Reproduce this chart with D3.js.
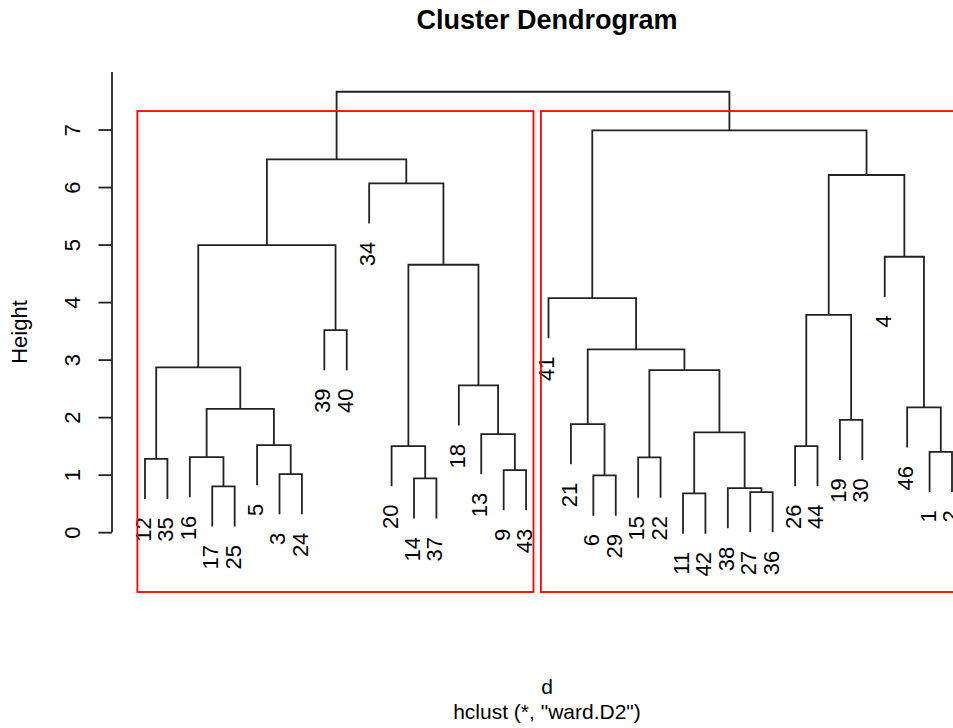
<!DOCTYPE html>
<html>
<head>
<meta charset="utf-8">
<script src="https://cdn.jsdelivr.net/npm/d3@7"></script>
<style>
  html, body { margin: 0; padding: 0; background: #fff; }
  svg { display: block; font-family: "Liberation Sans", Arial, sans-serif; }
</style>
</head>
<body>
<svg id="chart" width="953" height="728"></svg>
<script>
// Leaf labels in plotting order (left to right)
const leafOrder = ["12","35","16","17","25","5","3","24","39","40","34","20","14","37",
  "18","13","9","43","41","21","6","29","15","22","11","42","38","27","36","26","44",
  "19","30","4","46","1","2"];

// Agglomeration steps, hclust style: negative = observation, positive = earlier step (1-based)
const merges = [
  [-11,-42],[-27,-36],[-38,2],[-17,-25],[-14,-37],[-6,-29],[-3,-24],[-9,-43],
  [-12,-35],[-15,-22],[-16,4],[-1,-2],[-26,-44],[-20,5],[-5,7],[-13,8],
  [1,3],[-21,6],[-19,-30],[11,15],[-46,12],[-18,16],[10,17],[9,20],
  [18,23],[-39,-40],[13,19],[-41,25],[14,22],[-4,21],[24,26],[-34,29],
  [27,30],[31,32],[28,33],[34,35]
];

// Merge heights, one per step
const mergeHeights = [
  0.673,0.696,0.765,0.795,0.934,0.986,1.009,1.078,
  1.275,1.299,1.304,1.397,1.496,1.496,1.513,1.704,
  1.734,1.878,1.953,2.144,2.169,2.551,2.817,2.864,
  3.177,3.513,3.779,4.070,4.649,4.788,4.991,6.064,
  6.209,6.482,6.986,7.657
];

const yTicks = [0,1,2,3,4,5,6,7];
const clusterCount = 2;

const titleText = "Cluster Dendrogram";
const xLabelText = "d";
const subText = 'hclust (*, "ward.D2")';
const yLabelText = "Height";

const svg = d3.select("#chart");
svg.append("rect").attr("width", 953).attr("height", 728).attr("fill", "#fff");

const fontSize = 22;
const ink = "#222";

// Scales
const x = d3.scaleLinear().domain([0, leafOrder.length - 1]).range([145, 952]);
const y = d3.scaleLinear().domain([-1.04, 8]).range([592, 72]);

// Build nested tree from merge steps
function build(ref) {
  if (ref < 0) return { label: String(-ref) };
  const i = ref - 1;
  return { height: mergeHeights[i], step: i, children: merges[i].map(build) };
}
const root = d3.hierarchy(build(merges.length));

const maxH = d3.max(mergeHeights), minH = d3.min(mergeHeights);
const hang = 0.1 * (maxH - minH);

root.eachAfter(n => {
  if (!n.children) n.px = x(leafOrder.indexOf(n.data.label));
  else n.px = d3.mean(n.children, c => c.px);
});

// Branches
const gTree = svg.append("g");
root.each(n => {
  if (!n.children) return;
  const h = n.data.height;
  const [a, b] = n.children.slice().sort((p, q) => p.px - q.px);
  const endY = c => c.children ? y(c.data.height) : y(h - hang);
  gTree.append("path")
    .attr("d", `M${a.px},${endY(a)}V${y(h)}H${b.px}V${endY(b)}`)
    .attr("fill", "none")
    .attr("stroke", ink)
    .attr("stroke-width", 1.8);
});

// Leaf labels
const mOffset = 0.833 * fontSize;
root.leaves().forEach(l => {
  const ly = y(l.parent.data.height - hang) + mOffset;
  svg.append("text")
    .attr("transform", `translate(${l.px},${ly}) rotate(-90)`)
    .attr("text-anchor", "end")
    .attr("dy", "0.27em")
    .attr("font-size", fontSize)
    .attr("fill", "#000")
    .text(l.data.label);
});

// Cluster rectangles
const topSteps = mergeHeights.slice().sort((p, q) => q - p);
const rectTop = (topSteps[clusterCount - 2] + topSteps[clusterCount - 1]) / 2;
root.children
  .slice().sort((p, q) => p.px - q.px)
  .forEach(c => {
    const idx = c.leaves().map(l => leafOrder.indexOf(l.data.label));
    const x0 = x(d3.min(idx) - 0.34), x1 = x(d3.max(idx) + 0.33);
    svg.append("rect")
      .attr("x", x0).attr("y", y(rectTop))
      .attr("width", x1 - x0).attr("height", y(y.domain()[0]) - y(rectTop))
      .attr("fill", "none")
      .attr("stroke", "#ff0000")
      .attr("stroke-width", 1.8);
  });

// Y axis
const axisX = 112;
const yAxis = svg.append("g")
  .attr("transform", `translate(${axisX},0)`)
  .call(d3.axisLeft(y).tickValues(yTicks).tickSize(13.5).tickFormat(d3.format("d")));
yAxis.select(".domain").remove();
yAxis.selectAll(".tick line").attr("stroke", ink).attr("stroke-width", 1.8);
yAxis.selectAll(".tick text")
  .attr("x", null).attr("dy", null)
  .attr("transform", "translate(-32,0) rotate(-90)")
  .attr("text-anchor", "middle")
  .attr("font-size", fontSize)
  .attr("font-family", null)
  .attr("fill", "#000");
yAxis.append("line")
  .attr("x1", 0).attr("x2", 0)
  .attr("y1", y(0)).attr("y2", y(y.domain()[1]))
  .attr("stroke", ink).attr("stroke-width", 1.8);

// Titles
const cx = 547;
svg.append("text").attr("x", cx).attr("y", 29)
  .attr("text-anchor", "middle").attr("font-size", 27).attr("font-weight", "bold")
  .text(titleText);
svg.append("text").attr("x", cx).attr("y", 694)
  .attr("text-anchor", "middle").attr("font-size", 21)
  .text(xLabelText);
svg.append("text").attr("x", cx).attr("y", 719)
  .attr("text-anchor", "middle").attr("font-size", 21)
  .text(subText);
svg.append("text")
  .attr("transform", `translate(27,332) rotate(-90)`)
  .attr("text-anchor", "middle").attr("font-size", fontSize)
  .text(yLabelText);
</script>
</body>
</html>
